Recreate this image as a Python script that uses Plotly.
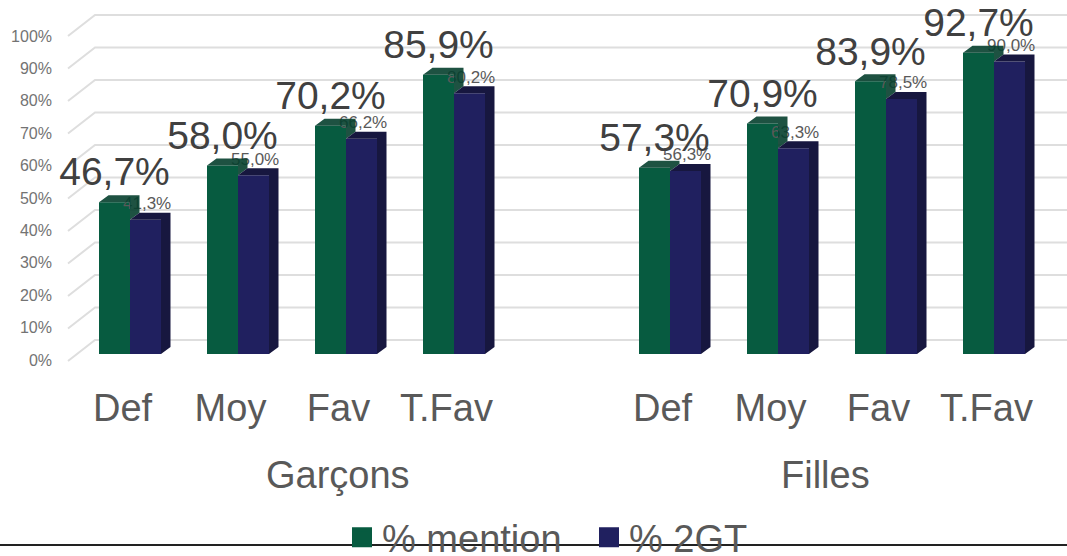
import plotly.graph_objects as go

categories = ["Def", "Moy", "Fav", "T.Fav", "Def", "Moy", "Fav", "T.Fav"]
positions = [0, 1, 2, 3, 5, 6, 7, 8]
mention = [46.7, 58.0, 70.2, 85.9, 57.3, 70.9, 83.9, 92.7]
gt2 = [41.3, 55.0, 66.2, 80.2, 56.3, 63.3, 78.5, 90.0]
groups = ["Garçons", "Filles"]
series_names = ["% mention", "% 2GT"]
y_ticks = [0, 10, 20, 30, 40, 50, 60, 70, 80, 90, 100]

GREEN, GREEN_D = "#075b40", "#053f2e"
BLUE, BLUE_D = "#20205f", "#17173f"
W = 31 / 108          # bar width in category units
DX = 9.5 / 108        # horizontal depth
DY = 7 / 3.25         # vertical depth
FONT = "Liberation Sans, Arial, sans-serif"


def fr(v):
    return f"{v:.1f}".replace(".", ",") + "%"


def polys(items):
    xs, ys = [], []
    for pts in items:
        xs += [p[0] for p in pts] + [pts[0][0], None]
        ys += [p[1] for p in pts] + [pts[0][1], None]
    return xs, ys


fig = go.Figure()
fig.add_trace(go.Bar(x=[p - W / 2 for p in positions], y=mention, width=W,
                     marker=dict(color=GREEN, line=dict(width=0)), showlegend=False, hoverinfo="skip"))
fig.add_trace(go.Bar(x=[p + W / 2 for p in positions], y=gt2, width=W,
                     marker=dict(color=BLUE, line=dict(width=0)), showlegend=False, hoverinfo="skip"))

# small labels go under the green depth faces
fig.add_trace(go.Scatter(x=[p + W / 2 + 0.015 for p in positions], y=[v + DY - 0.2 for v in gt2],
                         mode="text", text=[fr(v) for v in gt2], textposition="top center",
                         textfont=dict(size=17, color="#595959", family=FONT),
                         showlegend=False, hoverinfo="skip"))

green_faces = []
blue_top, blue_side = [], []
for p, g, b in zip(positions, mention, gt2):
    l, m, r = p - W, p, p + W
    green_faces.append([(l, g), (l + DX, g + DY), (m + DX, g + DY), (m, g)])
    green_faces.append([(m, g), (m + DX, g + DY), (m + DX, b + DY), (m, b)])
    blue_top.append([(m, b), (m + DX, b + DY), (r + DX, b + DY), (r, b)])
    blue_side.append([(r, b), (r + DX, b + DY), (r + DX, DY), (r, 0)])

for faces, col in ((green_faces, "rgba(5,63,46,0.9)"), (blue_top + blue_side, BLUE_D)):
    xs, ys = polys(faces)
    fig.add_trace(go.Scatter(x=xs, y=ys, mode="lines", fill="toself", fillcolor=col,
                             line=dict(width=0), showlegend=False, hoverinfo="skip"))

fig.add_trace(go.Scatter(x=[p - W / 2 for p in positions], y=[v + DY for v in mention],
                         mode="text", text=[fr(v) for v in mention], textposition="top center",
                         textfont=dict(size=39, color="#404040", family=FONT),
                         showlegend=False, hoverinfo="skip"))

# legend entries, on the axis that carries the percentage labels
for name, col in zip(series_names, (GREEN, BLUE)):
    fig.add_trace(go.Scatter(x=[None], y=[None], yaxis="y2", mode="markers", name=name,
                             marker=dict(symbol="square", size=16, color=col, line=dict(color=col, width=4))))
fig.add_trace(go.Scatter(x=[0], y=[0], yaxis="y2", mode="markers", marker=dict(opacity=0, size=1),
                         showlegend=False, hoverinfo="skip"))

shapes = []
GRID_SHIFT = 14 / 3.25
for t in y_ticks:
    back = t + GRID_SHIFT
    shapes.append(dict(type="path", layer="below", xref="x", yref="y",
                       path=f"M {(68-130)/108} {back - 21/3.25} L {(95-130)/108} {back} L {(1067-130)/108} {back}",
                       line=dict(color="#dedede", width=2)))
P_H = 370
shapes.append(dict(type="line", layer="above", xref="paper", yref="paper",
                   x0=-56 / 1011, x1=1, y0=(P_H - 545) / P_H, y1=(P_H - 545) / P_H,
                   line=dict(color="#222222", width=2)))

annotations = [
    dict(text=groups[0], x=(338 - 130) / 108, xref="x", y=(P_H - 475) / P_H, yref="paper", yanchor="middle",
         showarrow=False, font=dict(size=38, color="#595959", family=FONT)),
    dict(text=groups[1], x=(825 - 130) / 108, xref="x", y=(P_H - 475) / P_H, yref="paper", yanchor="middle",
         showarrow=False, font=dict(size=38, color="#595959", family=FONT)),
]

fig.update_layout(
    width=1067, height=556, autosize=False, showlegend=True, barmode="overlay",
    paper_bgcolor="white", plot_bgcolor="white",
    margin=dict(l=56, r=0, t=0, b=556 - P_H, pad=0, autoexpand=False),
    xaxis=dict(range=[(56 - 130) / 108, (1067 - 130) / 108], showgrid=False, zeroline=False, showline=False,
               automargin=False,
               tickmode="array", tickvals=[p - 7.5 / 108 for p in positions], ticktext=categories,
               ticks="outside", ticklen=4, tickcolor="rgba(0,0,0,0)",
               tickfont=dict(size=38, color="#595959", family=FONT)),
    yaxis=dict(range=[(354 - P_H) / 3.25, 354 / 3.25], visible=False, automargin=False),
    yaxis2=dict(range=[(360 - P_H) / 3.24, 360 / 3.24], overlaying="y", side="left", anchor="x",
                automargin=False, ticklabelstandoff=3,
                tickmode="array", tickvals=y_ticks, ticktext=[f"{t}%" for t in y_ticks],
                showgrid=False, zeroline=False, showline=False, ticks="",
                tickfont=dict(size=16, color="#737373", family=FONT)),
    legend=dict(orientation="h", x=(342 - 56) / 1011, y=(P_H - 506) / P_H, xanchor="left", yanchor="top",
                entrywidth=202, entrywidthmode="pixels",
                font=dict(size=38, color="#595959", family=FONT), bgcolor="rgba(0,0,0,0)"),
    shapes=shapes, annotations=annotations,
)
fig.write_html("out.html", config={"displayModeBar": False},
               post_script="document.body.style.margin='0';")
